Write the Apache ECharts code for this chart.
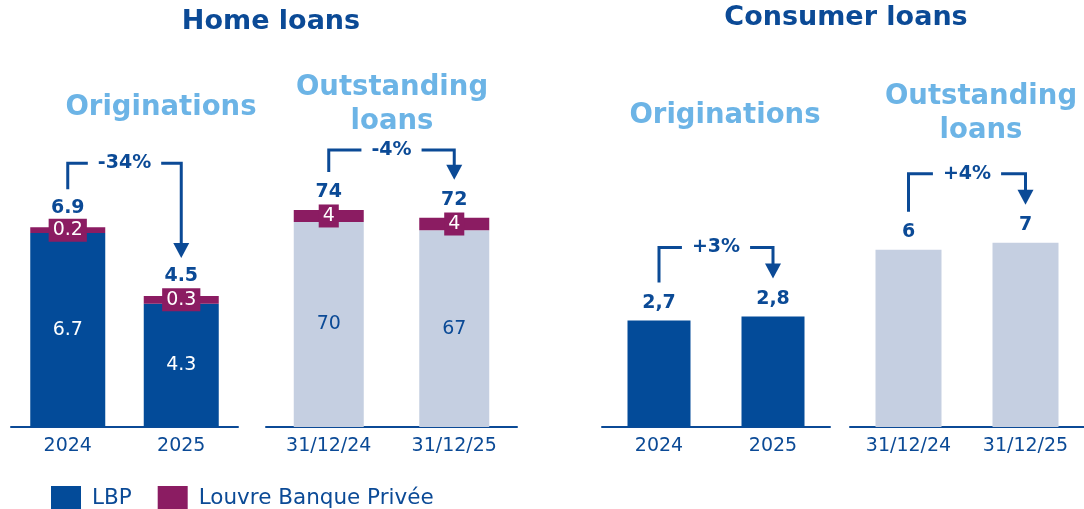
<!DOCTYPE html>
<html lang="en">
<head>
<meta charset="UTF-8">
<title>Home loans / Consumer loans</title>
<script src="https://cdn.jsdelivr.net/npm/echarts@6/dist/echarts.min.js"></script>
<style>
  html, body { margin: 0; padding: 0; background: #fff; }
  #main { width: 1084px; height: 509px; }
</style>
</head>
<body>
<div id="main"></div>
<script>
// home loans (bn)
var homeOrigCats = ['2024', '2025'];
var homeOrigLbp = [6.7, 4.26];
var homeOrigLbpv = [0.2, 0.27];
var homeOutCats = ['31/12/24', '31/12/25'];
var homeOutLbp = [70.2, 67.4];
var homeOutLbpv = [4.1, 4.2];
// consumer loans (bn)
var consOrigCats = ['2024', '2025'];
var consOrig = [2.7, 2.8];
var consOutCats = ['31/12/24', '31/12/25'];
var consOut = [6.4, 6.65];
// change written on the arrows
var changeLabels = ['-34%', '-4%', '+3%', '+4%'];

var DARK = '#0b4a96', BLUE = '#034b99', PURPLE = '#8b1c62', LIGHT = '#c5cfe1', SKY = '#6cb4e6';
var FONT = 'DejaVu Sans';

function sum(a, b) { return a.map(function (v, i) { return v + b[i]; }); }
var homeOrigTot = sum(homeOrigLbp, homeOrigLbpv);
var homeOutTot = sum(homeOutLbp, homeOutLbpv);

var myChart = echarts.init(document.getElementById('main'));

var yMax = [13.37, 132.5, 9.81, 13.97];
var allCats = [homeOrigCats, homeOutCats, consOrigCats, consOutCats];

function xAxisFor(i) {
  return {
    type: 'category', gridIndex: i, data: allCats[i],
    axisLine: { lineStyle: { color: DARK, width: 2 } },
    axisTick: { show: false },
    axisLabel: { color: DARK, fontSize: 19, fontFamily: FONT, margin: 10 }
  };
}
function yAxisFor(i) {
  return { type: 'value', gridIndex: i, min: 0, max: yMax[i], show: false, splitLine: { show: false } };
}

function fix1(p) { return p.value.toFixed(1); }
function fix0(p) { return p.value.toFixed(0); }
function comma(p) { return p.value.toFixed(1).replace('.', ','); }

var totalLabel = { show: true, position: 'top', distance: 8, color: DARK, fontSize: 19, fontWeight: 'bold', fontFamily: FONT, opacity: 1 };
var boxLabel = { show: true, position: 'inside', color: '#fff', fontSize: 19, fontFamily: FONT,
  backgroundColor: PURPLE, padding: [2, 4] };

myChart.setOption({
  animation: false,
  grid: [
    { left: 11, width: 227, top: 40, bottom: 82 },
    { left: 266, width: 251, top: 40, bottom: 82 },
    { left: 602, width: 228, top: 40, bottom: 82 },
    { left: 850, width: 240, top: 40, bottom: 82 }
  ],
  xAxis: [xAxisFor(0), xAxisFor(1), xAxisFor(2), xAxisFor(3)],
  yAxis: [yAxisFor(0), yAxisFor(1), yAxisFor(2), yAxisFor(3)],
  legend: {
    left: 51, top: 486, padding: 0, itemWidth: 30, itemHeight: 24, itemGap: 26, icon: 'rect',
    textStyle: { color: DARK, fontSize: 21.5, fontFamily: FONT, padding: [0, 0, 0, 6] },
    data: [{ name: 'LBP', itemStyle: { color: BLUE } },
           { name: 'Louvre Banque Privée', itemStyle: { color: PURPLE } }]
  },
  series: [
    { name: 'LBP', type: 'bar', xAxisIndex: 0, yAxisIndex: 0, stack: 'h1', barWidth: 75,
      data: homeOrigLbp, itemStyle: { color: BLUE },
      label: { show: true, position: 'inside', color: '#fff', fontSize: 19, fontFamily: FONT, formatter: fix1 } },
    { name: 'Louvre Banque Privée', type: 'bar', xAxisIndex: 0, yAxisIndex: 0, stack: 'h1', barWidth: 75,
      data: homeOrigLbpv, itemStyle: { color: PURPLE },
      label: Object.assign({}, boxLabel, { formatter: fix1 }) },
    { name: 'total1', type: 'scatter', xAxisIndex: 0, yAxisIndex: 0, symbolSize: 0, z: 5,
      itemStyle: { opacity: 1 },
      data: homeOrigTot, label: Object.assign({}, totalLabel, { distance: 10, formatter: fix1 }) },

    { name: 'LBP', type: 'bar', xAxisIndex: 1, yAxisIndex: 1, stack: 'h2', barWidth: 70,
      data: homeOutLbp, itemStyle: { color: LIGHT },
      label: { show: true, position: 'inside', color: DARK, fontSize: 19, fontFamily: FONT, formatter: fix0 } },
    { name: 'Louvre Banque Privée', type: 'bar', xAxisIndex: 1, yAxisIndex: 1, stack: 'h2', barWidth: 70,
      data: homeOutLbpv, itemStyle: { color: PURPLE },
      label: Object.assign({}, boxLabel, { formatter: fix0 }) },
    { name: 'total2', type: 'scatter', xAxisIndex: 1, yAxisIndex: 1, symbolSize: 0, z: 5,
      itemStyle: { opacity: 1 },
      data: homeOutTot, label: Object.assign({}, totalLabel, { formatter: fix0 }) },

    { name: 'consOrig', type: 'bar', xAxisIndex: 2, yAxisIndex: 2, barWidth: 63,
      data: consOrig, itemStyle: { color: BLUE },
      label: Object.assign({}, totalLabel, { formatter: comma }) },
    { name: 'consOut', type: 'bar', xAxisIndex: 3, yAxisIndex: 3, barWidth: 66,
      data: consOut, itemStyle: { color: LIGHT },
      label: Object.assign({}, totalLabel, { formatter: fix0 }) }
  ]
});

// brackets with arrows, placed from the bar tops
var tops = [homeOrigTot, homeOutTot, consOrig, consOut];
var hOff = [64, 60, 69, 69];
var ctx = document.createElement('canvas').getContext('2d');
ctx.font = 'bold 19px ' + FONT;

var graphics = [
  { type: 'text', x: 271, y: 22, style: { text: 'Home loans', font: 'bold 27px ' + FONT, fill: DARK, align: 'center', verticalAlign: 'middle' } },
  { type: 'text', x: 846, y: 18, style: { text: 'Consumer loans', font: 'bold 27px ' + FONT, fill: DARK, align: 'center', verticalAlign: 'middle' } },
  { type: 'text', x: 161, y: 108, style: { text: 'Originations', font: 'bold 27.5px ' + FONT, fill: SKY, align: 'center', verticalAlign: 'middle' } },
  { type: 'text', x: 392, y: 105, style: { text: 'Outstanding\nloans', font: 'bold 27.5px ' + FONT, lineHeight: 34, fill: SKY, align: 'center', verticalAlign: 'middle' } },
  { type: 'text', x: 725, y: 116, style: { text: 'Originations', font: 'bold 27.5px ' + FONT, fill: SKY, align: 'center', verticalAlign: 'middle' } },
  { type: 'text', x: 981, y: 114, style: { text: 'Outstanding\nloans', font: 'bold 27.5px ' + FONT, lineHeight: 34, fill: SKY, align: 'center', verticalAlign: 'middle' } }
];

for (var k = 0; k < 4; k++) {
  var p0 = myChart.convertToPixel({ gridIndex: k }, [allCats[k][0], tops[k][0]]);
  var p1 = myChart.convertToPixel({ gridIndex: k }, [allCats[k][1], tops[k][1]]);
  var hy = Math.min(p0[1], p1[1]) - hOff[k];
  var tip = p1[1] - 38;
  var mid = (p0[0] + p1[0]) / 2;
  var w = ctx.measureText(changeLabels[k]).width;
  var lineStyle = { stroke: DARK, lineWidth: 3, fill: null };
  graphics.push(
    { type: 'polyline', shape: { points: [[p0[0], p0[1] - 38], [p0[0], hy], [mid - w / 2 - 10, hy]] }, style: lineStyle },
    { type: 'polyline', shape: { points: [[mid + w / 2 + 10, hy], [p1[0], hy], [p1[0], tip - 14]] }, style: lineStyle },
    { type: 'polygon', shape: { points: [[p1[0] - 8, tip - 15], [p1[0] + 8, tip - 15], [p1[0], tip]] }, style: { fill: DARK } },
    { type: 'text', x: mid, y: hy, style: { text: changeLabels[k], font: 'bold 19px ' + FONT, fill: DARK, align: 'center', verticalAlign: 'middle' } }
  );
}

myChart.setOption({ graphic: graphics });
</script>
</body>
</html>
